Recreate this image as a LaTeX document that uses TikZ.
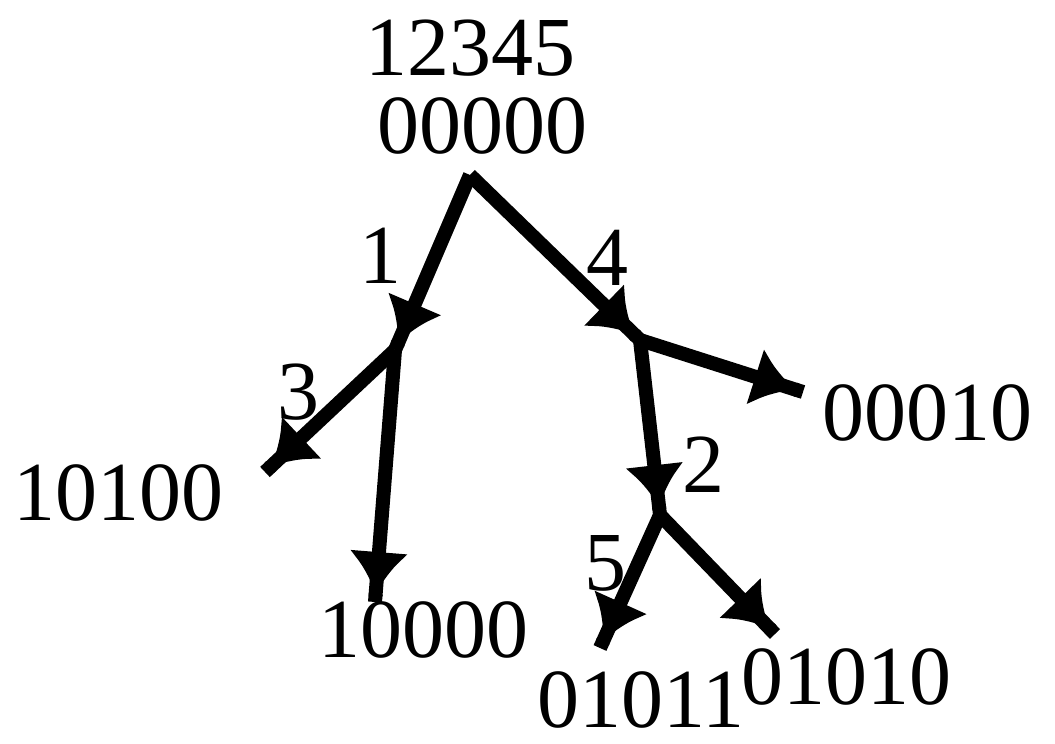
\documentclass[tikz,border=0pt]{standalone}
\usepackage{fontspec}
\setmainfont{Liberation Serif}
\usetikzlibrary{arrows.meta,positioning}

\begin{document}
\begin{tikzpicture}[x=0.5pt, y=-0.5pt, font=\fontsize{42}{46}\selectfont,
  lbl/.style={inner sep=0pt},
  ar/.style={-{Latex[length=21pt,width=30pt]Rectangle[length=4pt,width=7pt]}, line width=7pt}]
\useasboundingbox (0,0) rectangle (1055,744);
% labels of the states
\node[lbl] (perm) at (470,48) {12345};
\node[lbl] (s0) at (482,126) {00000};
\node[lbl] (s10100) at (118,493) {10100};
\node[lbl] (s10000) at (423,630) {10000};
\node[lbl] (s00010) at (927,413) {00010};
\node[lbl] (s01011) at (641,700) {01011};
\node[lbl] (s01010) at (846,677) {01010};
% branch points
\coordinate (j0) at (470,175);
\coordinate (j1) at (395,350);
\coordinate (j4) at (640,340);
\coordinate (j2) at (660,515);
\coordinate (e3) at (265,472);
\coordinate (e1) at (375,602);
\coordinate (e4) at (803,392);
\coordinate (e5) at (600,648);
\coordinate (e6) at (775,634);
\draw[ar] (j0) -- (j1);
\draw[ar] (j0) -- (j4);
\draw[ar] (j1) -- (e3);
\draw[ar] (j1) -- (e1);
\draw[ar] (j4) -- (e4);
\draw[ar] (j4) -- (j2);
\draw[ar] (j2) -- (e5);
\draw[ar] (j2) -- (e6);
% move numbers
\node[lbl] (f1) at (380,256) {1};
\node[lbl] (f4) at (607,258) {4};
\node[lbl] (f3) at (298,392) {3};
\node[lbl] (f2) at (703,465) {2};
\node[lbl] (f5) at (605,563) {5};
\end{tikzpicture}
\end{document}
